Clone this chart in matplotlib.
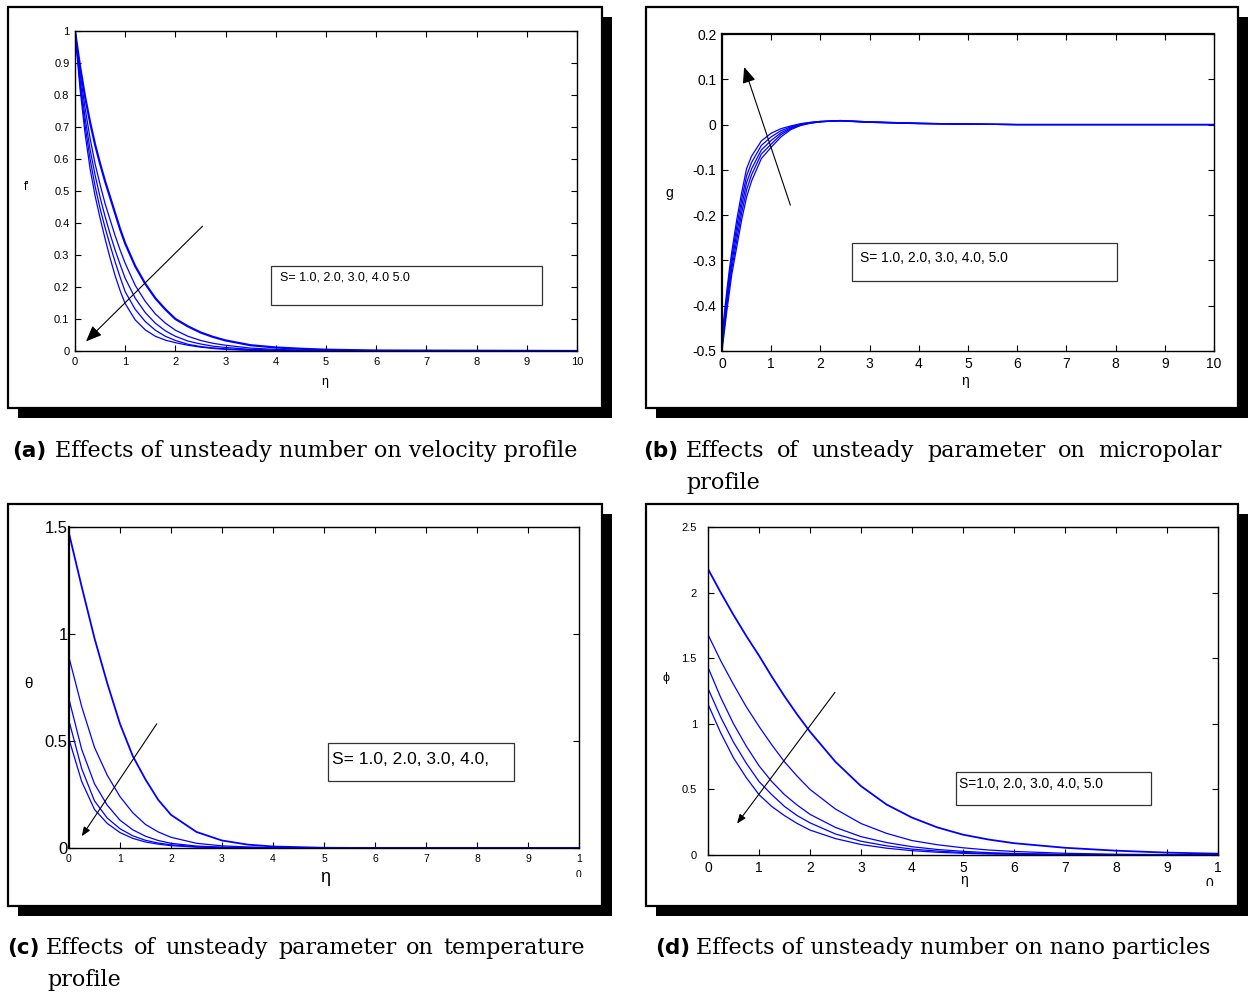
import matplotlib
matplotlib.use("Agg")
import matplotlib.pyplot as plt
from matplotlib.patches import Rectangle
from matplotlib.transforms import Bbox

W, H = 1248, 994
plt.rcParams['font.family'] = ['Liberation Sans Narrow', 'Liberation Sans', 'DejaVu Sans']

# ---- data ----
# (a) velocity profile f'(eta), S = 1..5
eta_a = [0, 0.1, 0.2, 0.3, 0.4, 0.5, 0.6, 0.7, 0.8, 0.9, 1.0, 1.2, 1.4, 1.6, 1.8, 2.0,
         2.25, 2.5, 2.75, 3.0, 3.5, 4.0, 4.5, 5.0, 6.0, 10.0]
fp_1 = [1, 0.89, 0.795, 0.715, 0.645, 0.585, 0.53, 0.48, 0.43, 0.38, 0.336, 0.265, 0.21, 0.165, 0.13, 0.10,
        0.077, 0.058, 0.044, 0.033, 0.018, 0.011, 0.007, 0.004, 0.0015, 0]
fp_2 = [1, 0.87, 0.76, 0.665, 0.585, 0.52, 0.46, 0.41, 0.36, 0.315, 0.274, 0.205, 0.155, 0.116, 0.087, 0.065,
        0.046, 0.033, 0.024, 0.018, 0.009, 0.005, 0.003, 0.0015, 0.0005, 0]
fp_3 = [1, 0.85, 0.73, 0.63, 0.55, 0.48, 0.42, 0.365, 0.315, 0.27, 0.227, 0.165, 0.12, 0.087, 0.063, 0.046,
        0.031, 0.022, 0.015, 0.011, 0.005, 0.0025, 0.0013, 0.0007, 0, 0]
fp_4 = [1, 0.835, 0.705, 0.60, 0.515, 0.445, 0.385, 0.33, 0.278, 0.23, 0.185, 0.13, 0.092, 0.065, 0.046, 0.033,
        0.021, 0.014, 0.0095, 0.0065, 0.003, 0.0015, 0.0008, 0.0004, 0, 0]
fp_5 = [1, 0.82, 0.68, 0.57, 0.485, 0.415, 0.35, 0.29, 0.235, 0.188, 0.148, 0.097, 0.066, 0.046, 0.034, 0.026,
        0.018, 0.012, 0.008, 0.005, 0.002, 0.001, 0.0005, 0, 0, 0]

# (b) micropolar profile g(eta)
eta_b = [0, 0.05, 0.1, 0.15, 0.2, 0.3, 0.4, 0.5, 0.6, 0.8, 1.0, 1.2, 1.4, 1.6, 1.8, 2.0, 2.4, 3.0, 4.0, 5.0, 6.0, 10.0]
g_1 = [-0.47, -0.415, -0.365, -0.32, -0.28, -0.21, -0.15, -0.097, -0.07, -0.036, -0.019, -0.009, -0.003, 0.002, 0.005, 0.007, 0.008, 0.005, 0.002, 0.001, 0, 0]
g_2 = [-0.477, -0.425, -0.376, -0.332, -0.293, -0.225, -0.165, -0.113, -0.084, -0.046, -0.027, -0.0135, -0.005, 0.001, 0.0045, 0.007, 0.0083, 0.005, 0.0023, 0.001, 0, 0]
g_3 = [-0.485, -0.435, -0.388, -0.345, -0.305, -0.24, -0.18, -0.128, -0.098, -0.056, -0.035, -0.018, -0.007, 0, 0.004, 0.0065, 0.0085, 0.0055, 0.0025, 0.001, 0, 0]
g_4 = [-0.492, -0.445, -0.40, -0.357, -0.318, -0.255, -0.195, -0.144, -0.111, -0.065, -0.043, -0.022, -0.009, -0.001, 0.0035, 0.006, 0.0088, 0.006, 0.0028, 0.001, 0, 0]
g_5 = [-0.50, -0.455, -0.41, -0.37, -0.33, -0.27, -0.21, -0.16, -0.125, -0.075, -0.05, -0.027, -0.011, -0.002, 0.003, 0.006, 0.009, 0.006, 0.003, 0.001, 0, 0]

# (c) temperature profile theta(eta)
eta_c = [0, 0.25, 0.5, 0.75, 1.0, 1.25, 1.5, 1.75, 2.0, 2.5, 3.0, 3.5, 4.0, 5.0, 6.0, 10.0]
th_1 = [1.47, 1.22, 0.98, 0.77, 0.58, 0.43, 0.32, 0.225, 0.155, 0.075, 0.035, 0.016, 0.007, 0.001, 0, 0]
th_2 = [0.89, 0.66, 0.47, 0.34, 0.24, 0.165, 0.11, 0.075, 0.05, 0.022, 0.01, 0.005, 0.002, 0, 0, 0]
th_3 = [0.695, 0.46, 0.30, 0.20, 0.13, 0.085, 0.055, 0.035, 0.022, 0.009, 0.004, 0.002, 0.001, 0, 0, 0]
th_4 = [0.594, 0.37, 0.22, 0.14, 0.09, 0.057, 0.036, 0.023, 0.015, 0.006, 0.002, 0.001, 0, 0, 0, 0]
th_5 = [0.508, 0.31, 0.18, 0.115, 0.072, 0.045, 0.028, 0.018, 0.011, 0.004, 0.0015, 0, 0, 0, 0, 0]

# (d) nanoparticle profile phi(eta)
eta_d = [0, 0.25, 0.5, 0.75, 1, 1.25, 1.5, 1.75, 2, 2.5, 3, 3.5, 4, 4.5, 5, 5.5, 6, 7, 8, 9, 10]
ph_1 = [2.18, 2.0, 1.83, 1.67, 1.52, 1.36, 1.21, 1.07, 0.94, 0.71, 0.525, 0.385, 0.285, 0.21, 0.155, 0.118, 0.09, 0.055, 0.033, 0.018, 0.01]
ph_2 = [1.68, 1.48, 1.30, 1.13, 0.98, 0.84, 0.71, 0.60, 0.50, 0.35, 0.24, 0.165, 0.11, 0.078, 0.055, 0.038, 0.027, 0.013, 0.006, 0.003, 0.001]
ph_3 = [1.43, 1.20, 1.00, 0.83, 0.68, 0.56, 0.46, 0.38, 0.31, 0.21, 0.14, 0.095, 0.063, 0.042, 0.028, 0.018, 0.012, 0.005, 0.002, 0.001, 0]
ph_4 = [1.27, 1.05, 0.86, 0.70, 0.56, 0.46, 0.37, 0.30, 0.245, 0.16, 0.105, 0.07, 0.045, 0.03, 0.019, 0.012, 0.008, 0.003, 0.001, 0, 0]
ph_5 = [1.15, 0.93, 0.74, 0.59, 0.46, 0.37, 0.30, 0.24, 0.19, 0.125, 0.08, 0.052, 0.033, 0.021, 0.013, 0.008, 0.005, 0.002, 0.001, 0, 0]

x_ticks = list(range(11))
x_labels_full = [str(i) for i in range(11)]
x_labels_cut = [str(i) for i in range(10)] + ['1']

fig = plt.figure(figsize=(W / 100, H / 100), dpi=100)


def fx(x):
    return x / W


def fy(y):
    return 1 - y / H


def frame(x0, y0, x1, y1, off=10):
    # drop shadow, then white box with black border
    fig.add_artist(Rectangle((fx(x0 + off), fy(y1 + off)), (x1 - x0) / W, (y1 - y0) / H,
                             transform=fig.transFigure, facecolor='black', edgecolor='none', zorder=-3))
    fig.add_artist(Rectangle((fx(x0), fy(y1)), (x1 - x0) / W, (y1 - y0) / H,
                             transform=fig.transFigure, facecolor='white', edgecolor='black', lw=1.6, zorder=-2))


def panel(l, t, r, b, xfs, yfs):
    ax = fig.add_axes([fx(l), fy(b), (r - l) / W, (b - t) / H])
    ax.tick_params(direction='in', top=True, right=True, length=4, width=0.8, pad=4)
    ax.tick_params(axis='x', labelsize=xfs)
    ax.tick_params(axis='y', labelsize=yfs)
    for s in ax.spines.values():
        s.set_linewidth(1.0)
    ax.set_xlim(0, 10)
    ax.set_xticks(x_ticks)
    return ax


def sbox(x0, y0, x1, y1, text, tx, ty, size):
    fig.add_artist(Rectangle((fx(x0), fy(y1)), (x1 - x0) / W, (y1 - y0) / H,
                             transform=fig.transFigure, facecolor='white', edgecolor='#333333', lw=0.9, zorder=5))
    fig.text(fx(tx), fy(ty), text, fontsize=size, va='center', ha='left', zorder=6)


def cut_zero(x, y, clip_bottom, size):
    # the "0" of "10" that is cut off by the plot border
    t = fig.text(fx(x), fy(y), '0', fontsize=size, ha='center', va='top', zorder=6)
    t.set_clip_box(Bbox.from_extents(0, H - clip_bottom, W, H))
    t.set_clip_on(True)


def arrow(ax, start, end, style, ms):
    ax.annotate('', xy=end, xytext=start,
                arrowprops=dict(arrowstyle=style, color='black', lw=0.8, mutation_scale=ms,
                                shrinkA=0, shrinkB=0))


blue = '#0000ff'
big_head = '-|>,head_length=0.6,head_width=0.25'
small_head = '-|>,head_length=0.45,head_width=0.18'

# ---- frames ----
frame(8, 7, 602, 408)
frame(646, 7, 1238, 408)
frame(8, 504, 602, 906)
frame(646, 504, 1238, 906)

# ---- (a) ----
ax = panel(75, 31, 577, 351, 8, 8)
for k, c in enumerate([fp_1, fp_2, fp_3, fp_4, fp_5]):
    ax.plot(eta_a, c, color=blue, lw=1.6 if k == 0 else 0.9)
ax.set_ylim(0, 1)
ax.set_yticks([0, 0.1, 0.2, 0.3, 0.4, 0.5, 0.6, 0.7, 0.8, 0.9, 1])
ax.set_yticklabels(['0', '0.1', '0.2', '0.3', '0.4', '0.5', '0.6', '0.7', '0.8', '0.9', '1'])
ax.set_xticklabels(x_labels_full)
arrow(ax, (2.54, 0.39), (0.22, 0.03), big_head, 16)
fig.text(fx(27), fy(187), "f'", fontsize=8.5, ha='center', va='center')
fig.text(fx(325), fy(382), 'η', fontsize=9, ha='center', va='center')
sbox(271, 266, 542, 305, 'S= 1.0, 2.0, 3.0, 4.0 5.0', 280, 278, 9)

# ---- (b) ----
ax = panel(722, 34, 1214, 351, 10, 10)
for c in [g_1, g_2, g_3, g_4, g_5]:
    ax.plot(eta_b, c, color=blue, lw=0.9)
ax.set_ylim(-0.5, 0.2)
ax.set_yticks([-0.5, -0.4, -0.3, -0.2, -0.1, 0, 0.1, 0.2])
ax.set_yticklabels(['-0.5', '-0.4', '-0.3', '-0.2', '-0.1', '0', '0.1', '0.2'])
ax.set_xticklabels(x_labels_full)
ax.spines['left'].set_linewidth(1.6)
ax.spines['top'].set_linewidth(1.6)
arrow(ax, (1.39, -0.178), (0.45, 0.127), big_head, 16)
fig.text(fx(669), fy(193), 'g', fontsize=10, ha='center', va='center')
fig.text(fx(965), fy(381), 'η', fontsize=10, ha='center', va='center')
sbox(852, 243, 1117, 281, 'S= 1.0, 2.0, 3.0, 4.0, 5.0', 860, 258, 10)

# ---- (c) ----
ax = panel(69, 527, 579, 848, 7.5, 12)
for k, c in enumerate([th_1, th_2, th_3, th_4, th_5]):
    ax.plot(eta_c, c, color=blue, lw=1.3 if k == 0 else 0.9)
ax.set_ylim(0, 1.5)
ax.set_yticks([0, 0.5, 1, 1.5])
ax.set_yticklabels(['0', '0.5', '1', '1.5'])
ax.set_xticklabels(x_labels_cut)
ax.tick_params(axis='y', pad=1)
ax.spines['left'].set_linewidth(1.6)
arrow(ax, (1.72, 0.58), (0.25, 0.055), small_head, 12)
cut_zero(578, 870, 877, 7.5)
fig.text(fx(28), fy(684), 'θ', fontsize=11, ha='center', va='center')
fig.text(fx(325), fy(877), 'η', fontsize=13, ha='center', va='center')
sbox(328, 743, 514, 781, 'S= 1.0, 2.0, 3.0, 4.0,', 332, 759, 12.5)

# ---- (d) ----
ax = panel(708, 527, 1218, 855, 10, 8)
for k, c in enumerate([ph_1, ph_2, ph_3, ph_4, ph_5]):
    ax.plot(eta_d, c, color=blue, lw=1.3 if k == 0 else 0.9)
ax.set_ylim(0, 2.5)
ax.set_yticks([0, 0.5, 1, 1.5, 2, 2.5])
ax.set_yticklabels(['0', '0.5', '1', '1.5', '2', '2.5'])
ax.set_xticklabels(x_labels_cut)
ax.tick_params(axis='y', pad=8)
arrow(ax, (2.49, 1.24), (0.57, 0.24), small_head, 12)
cut_zero(1209, 877, 886, 10)
fig.text(fx(666), fy(678), 'ϕ', fontsize=9, ha='center', va='center')
fig.text(fx(964), fy(880), 'η', fontsize=10, ha='center', va='center')
sbox(956, 772, 1151, 805, 'S=1.0, 2.0, 3.0, 4.0, 5.0', 959, 784, 10)

# ---- captions ----
cap_font = dict(family='DejaVu Serif', fontsize=16)
lab_font = dict(family='DejaVu Sans', fontweight='bold', fontsize=15.5)
renderer = fig.canvas.get_renderer()


def justify(text, x0, x1, y):
    # spread the words of one line between x0 and x1
    words = text.split()
    widths = []
    for w in words:
        t = fig.text(0, 0, w, **cap_font)
        widths.append(t.get_window_extent(renderer).width)
        t.remove()
    gap = (x1 - x0 - sum(widths)) / (len(words) - 1)
    x = x0
    for w, wd in zip(words, widths):
        fig.text(fx(x), fy(y), w, ha='left', va='center', **cap_font)
        x += wd + gap


fig.text(fx(12), fy(451), '(a)', ha='left', va='center', **lab_font)
fig.text(fx(55), fy(451), 'Effects of unsteady number on velocity profile', ha='left', va='center', **cap_font)

fig.text(fx(643), fy(451), '(b)', ha='left', va='center', **lab_font)
justify('Effects of unsteady parameter on micropolar', 686, 1222, 451)
fig.text(fx(686), fy(483), 'profile', ha='left', va='center', **cap_font)

fig.text(fx(7), fy(948), '(c)', ha='left', va='center', **lab_font)
justify('Effects of unsteady parameter on temperature', 46, 585, 948)
fig.text(fx(47), fy(980), 'profile', ha='left', va='center', **cap_font)

fig.text(fx(655), fy(948), '(d)', ha='left', va='center', **lab_font)
fig.text(fx(696), fy(948), 'Effects of unsteady number on nano particles', ha='left', va='center', **cap_font)

fig.savefig('out.png', dpi=100)
